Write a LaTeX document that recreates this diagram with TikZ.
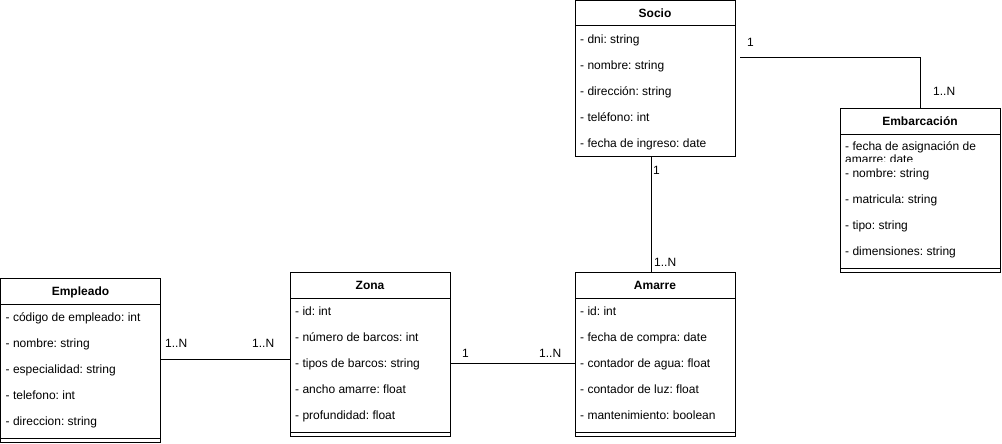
\documentclass[tikz,border=0pt]{standalone}
\usepackage{fontspec}
\setmainfont{Liberation Sans}
\frenchspacing
\begin{document}
\begin{tikzpicture}[x=1pt,y=-1pt,
  box/.style={draw, line width=1pt, fill=white, inner sep=0pt, outer sep=0pt, anchor=north west},
  attr/.style={anchor=base west, inner sep=0pt, font=\fontsize{12}{14}\selectfont},
  head/.style={anchor=base, inner sep=0pt, font=\bfseries\fontsize{12}{14}\selectfont},
  lbl/.style={anchor=base west, inner sep=0pt, font=\fontsize{12}{14}\selectfont},
  conn/.style={line width=1pt},
  sep/.style={line width=1pt}]
\useasboundingbox (0,0) rectangle (1002,444);

% Socio
\node[box, minimum width=160pt, minimum height=155.5pt] (socio) at (575,0.5) {};
\draw[sep] (575,26) -- (735,26);
\node[head] (socioT) at (655,17.5) {Socio};
\foreach \t [count=\i] in {- dni: string, - nombre: string, - dirección: string, - teléfono: int, - fecha de ingreso: date}
  \node[attr] (socio\i) at (580,26*\i+17.5) {\t};

% Embarcacion
\node[box, minimum width=160pt, minimum height=164pt] (emb) at (840,108) {};
\draw[sep] (840,134) -- (1000,134);
\node[head] (embT) at (920,125.5) {Embarcación};
\begin{scope}
  \clip (840,134) rectangle (1000,161);
  \node[attr] (emb1) at (845,150.5) {- fecha de asignación de};
  \node[attr] (emb1b) at (845,163.5) {amarre: date};
\end{scope}
\foreach \t [count=\i] in {- nombre: string, - matricula: string, - tipo: string, - dimensiones: string}
  \node[attr] (emb\i x) at (845,26*\i+151) {\t};
\draw[sep] (840,268) -- (1000,268);

% Empleado
\node[box, minimum width=160pt, minimum height=164pt] (empleado) at (0.5,278) {};
\draw[sep] (0.5,304) -- (160.5,304);
\node[head] (empleadoT) at (80.5,295.5) {Empleado};
\foreach \t [count=\i] in {- código de empleado: int, - nombre: string, - especialidad: string, - telefono: int, - direccion: string}
  \node[attr] (empleado\i) at (5.5,26*\i+295.5) {\t};
\draw[sep] (0.5,438) -- (160.5,438);

% Zona
\node[box, minimum width=160pt, minimum height=164pt] (zona) at (290,272) {};
\draw[sep] (290,298) -- (450,298);
\node[head] (zonaT) at (370,289.5) {Zona};
\foreach \t [count=\i] in {- id: int, - número de barcos: int, - tipos de barcos: string, - ancho amarre: float, - profundidad: float}
  \node[attr] (zona\i) at (295,26*\i+289.5) {\t};
\draw[sep] (290,432) -- (450,432);

% Amarre
\node[box, minimum width=160pt, minimum height=164pt] (amarre) at (575,272) {};
\draw[sep] (575,298) -- (735,298);
\node[head] (amarreT) at (655,289.5) {Amarre};
\foreach \t [count=\i] in {- id: int, - fecha de compra: date, - contador de agua: float, - contador de luz: float, - mantenimiento: boolean}
  \node[attr] (amarre\i) at (580,26*\i+289.5) {\t};
\draw[sep] (575,432) -- (735,432);

% Connectors
\draw[conn] (empleado.east |- 0,359) -- (zona.west |- 0,359);
\draw[conn] (zona.east |- 0,363) -- (amarre.west |- 0,363);
\draw[conn] ([xshift=-4pt]socio.south) -- ([xshift=-4pt]amarre.north);
\coordinate (sestart) at ([xshift=5pt]socio.east |- 0,58);
\draw[conn] (sestart) -- (emb.north |- sestart) -- (emb.north);

% Multiplicities
\node[lbl] (l1) at (165,347.5) {1..N};
\node[lbl] (l2) at (252,347) {1..N};
\node[lbl] (l3) at (462,357.5) {1};
\node[lbl] (l4) at (539,357.5) {1..N};
\node[lbl] (l5) at (653,174.5) {1};
\node[lbl] (l6) at (654,266.5) {1..N};
\node[lbl] (l7) at (747,46.5) {1};
\node[lbl] (l8) at (933,95.5) {1..N};
\end{tikzpicture}
\end{document}
